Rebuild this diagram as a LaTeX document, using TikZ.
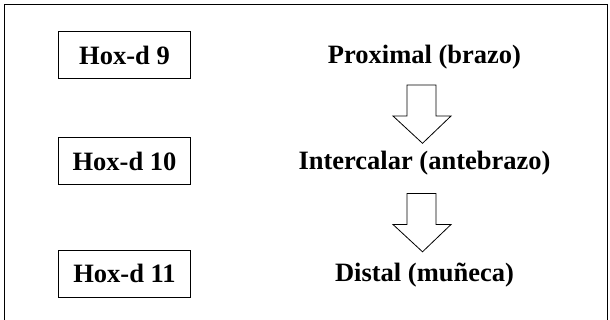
\documentclass[tikz,border=0pt]{standalone}
\usepackage{fontspec}
\setmainfont{Liberation Serif}
\begin{document}
\begin{tikzpicture}[x=1pt,y=-1pt,
  hoxbox/.style={draw, line width=1pt, minimum width=132.4pt, minimum height=47.3pt, inner sep=0pt, font=\fontsize{26.5}{30}\selectfont\bfseries},
  region/.style={anchor=base, inner sep=0pt, font=\fontsize{26.5}{30}\selectfont\bfseries},
  hollow/.style={draw, line width=0.8pt, fill=white, line join=miter}]
\useasboundingbox (0,0) rectangle (610,320);
\draw[line width=1pt] (4.7,4.7) rectangle (607.8,330);
\node[hoxbox] (h9) at (124.5,55.3) {Hox-d 9};
\node[hoxbox] (h10) at (124.5,161) {Hox-d 10};
\node[hoxbox] (h11) at (124.5,273.7) {Hox-d 11};
\node[region] (prox) at (424.5,63.3) {Proximal (brazo)};
\node[region] (inter) at (424.5,169.8) {Intercalar (antebrazo)};
\node[region] (dist) at (424.5,281.5) {Distal (muñeca)};
\foreach \dy/\nm in {0/a1,108.5/a2}{
  \begin{scope}[yshift=-\dy pt]
    \draw[hollow] (407,85) -- (436,85) -- (436,116) -- (451,116) -- (422.5,143.3) -- (393,116) -- (407,116) -- cycle;
    \coordinate (\nm) at (422.5,143.3);
  \end{scope}
}
\end{tikzpicture}
\end{document}
